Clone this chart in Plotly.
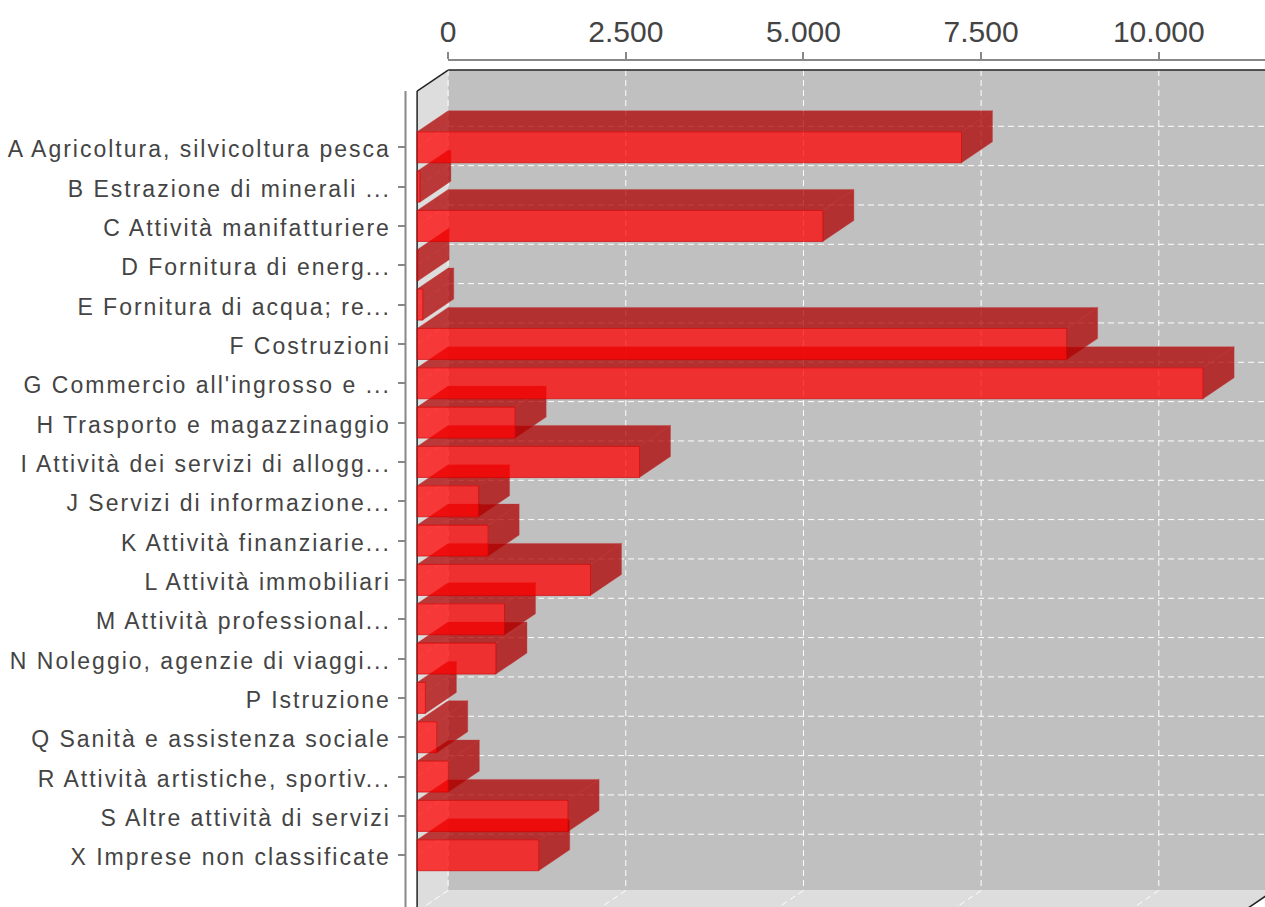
import plotly.graph_objects as go

# ---------------- data ----------------
categories = [
    "A Agricoltura, silvicoltura pesca",
    "B Estrazione di minerali ...",
    "C Attività manifatturiere",
    "D Fornitura di energ...",
    "E Fornitura di acqua; re...",
    "F Costruzioni",
    "G Commercio all'ingrosso e ...",
    "H Trasporto e magazzinaggio",
    "I Attività dei servizi di allogg...",
    "J Servizi di informazione...",
    "K Attività finanziarie...",
    "L Attività immobiliari",
    "M Attività professional...",
    "N Noleggio, agenzie di viaggi...",
    "P Istruzione",
    "Q Sanità e assistenza sociale",
    "R Attività artistiche, sportiv...",
    "S Altre attività di servizi",
    "X Imprese non classificate",
]
values = [7660, 40, 5710, 15, 80, 9140, 11060, 1380, 3130, 865, 1000,
          2440, 1230, 1110, 117, 277, 440, 2125, 1712]
x_tickvals = [0, 2500, 5000, 7500, 10000]
x_ticktext = ["0", "2.500", "5.000", "7.500", "10.000"]

# ---------------- geometry / style ----------------
W, H = 1265, 907
X0_PX = 448.1          # pixel of value 0 on the back plane
PX_PER_UNIT = 0.07107  # pixels per value unit
DEPTH_X_PX, DEPTH_Y_PX = 31.0, 21.0
ROW0_PX, ROW_PX = 147.3, 39.33   # first category centre (front plane), spacing
BAR_PX = 31.0
CAT_MIN, CAT_MAX = -1.43, 19.43  # category axis extent (with padding)
X_MAX = 11620                    # value extent of the back wall
XDOM_START_PX = 412.0
YAXIS_PX = 405.5

DXV = DEPTH_X_PX / PX_PER_UNIT
DYC = DEPTH_Y_PX / ROW_PX
BW = BAR_PX / ROW_PX
n = len(categories)
pos = list(range(n))

x_range = [(XDOM_START_PX - X0_PX) / PX_PER_UNIT, (W - X0_PX) / PX_PER_UNIT]
y_range = [(H - ROW0_PX) / ROW_PX, -ROW0_PX / ROW_PX]

FRONT = "rgba(255,0,0,0.75)"
DARK = "rgba(175,0,0,0.75)"
WALL = "#c0c0c0"
SIDEWALL = "#dddddd"
GRID = "white"
GRID_DASH = "6px,4px"

fig = go.Figure()

# ---------------- depth faces (top + side) ----------------
for i, v in zip(pos, values):
    t = i - BW / 2
    b = i + BW / 2
    xs = [-DXV, v - DXV, v, 0, -DXV, None,
          v - DXV, v - DXV, v, v, v - DXV]
    ys = [t, t, t - DYC, t - DYC, t, None,
          t, b, b - DYC, t - DYC, t]
    fig.add_trace(go.Scatter(
        x=xs, y=ys, mode="lines", fill="toself", fillcolor=DARK,
        line=dict(color="rgba(200,60,60,0.6)", width=0.6),
        hoverinfo="skip", showlegend=False, xaxis="x", yaxis="y"))

# ---------------- front faces (bars) ----------------
fig.add_trace(go.Bar(
    orientation="h", x=values, y=pos, base=-DXV, width=BW,
    marker=dict(color=FRONT, line=dict(color="rgba(205,0,0,0.8)", width=0.8)),
    hoverinfo="skip", showlegend=False, xaxis="x3", yaxis="y3"))

# dummy trace to carry the top value axis
fig.add_trace(go.Scatter(x=[0], y=[0], mode="markers", marker=dict(opacity=0),
                         hoverinfo="skip", showlegend=False, xaxis="x2", yaxis="y"))

# ---------------- walls, grid, frame (shapes) ----------------
shapes = []
wt, wb = CAT_MIN - DYC, CAT_MAX - DYC
shapes.append(dict(type="rect", xref="x", yref="y", x0=0, x1=X_MAX, y0=wt, y1=wb,
                   fillcolor=WALL, line=dict(width=0), layer="below"))
shapes.append(dict(type="path", xref="x", yref="y",
                   path=f"M 0,{wt} L 0,{wb} L {-DXV},{CAT_MAX} L {-DXV},{CAT_MIN} Z",
                   fillcolor=SIDEWALL, line=dict(width=0), layer="below"))
shapes.append(dict(type="path", xref="x", yref="y",
                   path=f"M 0,{wb} L {X_MAX},{wb} L {X_MAX - DXV},{CAT_MAX} L {-DXV},{CAT_MAX} Z",
                   fillcolor=SIDEWALL, line=dict(width=0), layer="below"))
gl = dict(color=GRID, width=1, dash=GRID_DASH)
for tv in x_tickvals:
    shapes.append(dict(type="line", xref="x", yref="y", x0=tv, x1=tv, y0=wt, y1=wb,
                       line=gl, layer="below"))
    shapes.append(dict(type="line", xref="x", yref="y", x0=tv, x1=tv - DXV, y0=wb, y1=CAT_MAX,
                       line=gl, layer="below"))
for c in pos:
    shapes.append(dict(type="line", xref="x", yref="y", x0=0, x1=X_MAX, y0=c - DYC, y1=c - DYC,
                       line=gl, layer="below"))
    shapes.append(dict(type="line", xref="x", yref="y", x0=0, x1=-DXV, y0=c - DYC, y1=c,
                       line=gl, layer="below"))
fl = dict(color="#222222", width=1.5)
shapes.append(dict(type="line", xref="x", yref="y", x0=0, x1=X_MAX, y0=wt, y1=wt, line=fl, layer="below"))
shapes.append(dict(type="line", xref="x", yref="y", x0=0, x1=-DXV, y0=wt, y1=CAT_MIN, line=fl, layer="below"))
shapes.append(dict(type="line", xref="x", yref="y", x0=-DXV, x1=-DXV, y0=CAT_MIN, y1=CAT_MAX, line=fl, layer="below"))
shapes.append(dict(type="line", xref="x", yref="y", x0=X_MAX, x1=X_MAX - DXV, y0=wb, y1=CAT_MAX, line=fl, layer="below"))
# category axis line
shapes.append(dict(type="line", xref="paper", yref="y", x0=YAXIS_PX / W, x1=YAXIS_PX / W,
                   y0=CAT_MIN, y1=CAT_MAX + 1, line=dict(color="#888888", width=2)))

font_family = "Liberation Sans, Arial, sans-serif"
fig.update_layout(
    width=W, height=H, margin=dict(l=0, r=0, t=0, b=0, autoexpand=False),
    paper_bgcolor="white", plot_bgcolor="rgba(0,0,0,0)", showlegend=False,
    shapes=shapes,
    xaxis=dict(domain=[XDOM_START_PX / W, 1], range=x_range, visible=False,
               fixedrange=True, anchor="y"),
    xaxis3=dict(overlaying="x", range=x_range, visible=False, anchor="y3"),
    xaxis2=dict(domain=[X0_PX / W, 1], range=[0, (W - X0_PX) / PX_PER_UNIT],
                anchor="free", position=1 - 59.5 / H, side="top",
                showline=True, linecolor="#888888", linewidth=2,
                ticks="outside", ticklen=7, tickwidth=2, tickcolor="#888888",
                tickvals=x_tickvals, ticktext=x_ticktext, ticklabelstandoff=-2,
                tickfont=dict(family=font_family, size=30, color="#444444"),
                showgrid=False, zeroline=False, automargin=False),
    yaxis=dict(domain=[0, 1], range=y_range, anchor="free", position=YAXIS_PX / W,
               tickvals=pos, ticktext=categories, ticks="outside", ticklen=8,
               tickwidth=2, tickcolor="#888888", showline=False, showgrid=False,
               zeroline=False, automargin=False, ticklabelstandoff=2, ticklabelshift=-2,
               tickfont=dict(family=font_family, size=23, color="#444444")),
    yaxis3=dict(overlaying="y", range=y_range, visible=False, anchor="x3"),
)

post = ("var s=document.createElement('style');"
        "s.textContent='html,body{margin:0;padding:0;overflow:hidden}"
        " .ytick text{letter-spacing:2px}';"
        "document.head.appendChild(s);")
fig.write_html("out.html", post_script=post, config={"displayModeBar": False})
